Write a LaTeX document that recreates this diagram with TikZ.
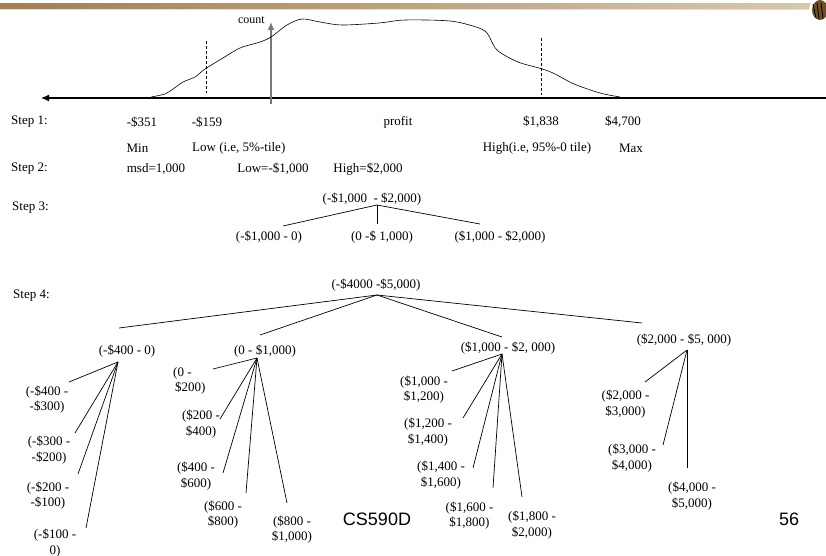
\documentclass[tikz,border=0pt]{standalone}
\usepackage{fontspec}
\setmainfont{Liberation Serif}
\newfontfamily\arialfont{Liberation Sans}
\usetikzlibrary{arrows.meta}
\definecolor{barL}{RGB}{160,126,86}
\definecolor{barR}{RGB}{216,200,176}
\definecolor{axisgray}{RGB}{120,120,120}
\definecolor{logobrown}{RGB}{110,80,40}
\begin{document}
\begin{tikzpicture}[x=1pt,y=-1pt,
  lbl/.style={inner sep=0pt, font=\fontsize{13}{15.5}\selectfont, align=center},
  lbll/.style={inner sep=0pt, font=\fontsize{13}{15.5}\selectfont, align=left},
  big/.style={inner sep=0pt, font=\arialfont\fontsize{18}{20}\selectfont},
  ln/.style={line width=0.7pt},
  vline/.style={line width=0.7pt, dash pattern=on 3pt off 2pt},
]
\useasboundingbox (0,0) rectangle (826,556);
% top bar
\shade[left color=barL, right color=barR] (0,4) rectangle (815,9);
\fill[barR!60!white] (0,9) rectangle (815,10.5);
% logo
\begin{scope}
\clip (806,0) rectangle (826,22);
\fill[white] (819,10) ellipse (10 and 11);
\fill[logobrown] (820,10) ellipse (8 and 10);
\draw[black, line width=0.8pt] (813,4) -- (816,18) (817,3) -- (819,19) (821,3) -- (823,19);
\end{scope}

% axes
\coordinate (axR) at (826,98);
\coordinate (axL) at (41,98);
\draw[line width=1.3pt, -{Latex[length=8pt,width=7pt]}] (axR) -- (axL);
\coordinate (cntB) at (271,104);
\coordinate (cntT) at (271,23);
\draw[axisgray, line width=1.5pt, -{Latex[length=8pt,width=7pt]}, shorten >=-1pt] (cntB) -- (cntT);
\node[lbl, font=\fontsize{12}{14}\selectfont, anchor=east] (count) at (265,20) {count};
% curve
\draw[line width=0.6pt] plot[smooth, tension=0.5] coordinates {
 (151,97) (165,94) (173,89) (183,82) (195,77) (205,69) (223,58) (240,48)
 (260,42) (271,37) (287,25) (302,19) (320,22) (342,25) (379,23) (405,20)
 (450,21) (476,27) (487,33) (497,50) (518,62) (539,68) (553,73) (574,84)
 (600,93) (620,97)};
\coordinate (dl1) at (206,41); \coordinate (dl2) at (206,93);
\coordinate (dr1) at (541,38); \coordinate (dr2) at (541,95);
\draw[vline] (dl1) -- (dl2);
\draw[vline] (dr1) -- (dr2);

% step 1
\node[lbl, anchor=west] (st1) at (11,122) {Step 1:};
\node[lbl] (v351) at (142,122) {-\$351};
\node[lbl] (v159) at (207,122) {-\$159};
\node[lbl] (profit) at (398,122) {profit};
\node[lbl] (v1838) at (541,122) {\$1,838};
\node[lbl] (v4700) at (623,122) {\$4,700};
\node[lbl] (tmin) at (137.5,148) {Min};
\node[lbl, anchor=west] (tlow) at (192,148) {Low (i.e, 5\%-tile)};
\node[lbl] (thigh) at (537,148) {High(i.e, 95\%-0 tile)};
\node[lbl] (tmax) at (631,148) {Max};
% step 2
\node[lbl, anchor=west] (st2) at (11,169) {Step 2:};
\node[lbl] (msd) at (156,169) {msd=1,000};
\node[lbl] (low2) at (273,169) {Low=-\$1,000};
\node[lbl] (high2) at (368,169) {High=\$2,000};
% step 3
\node[lbl, anchor=west] (st3) at (12,208) {Step 3:};
\node[lbl] (s3root) at (372,199) {(-\$1,000~ - \$2,000)};
\coordinate (s3apex) at (377,205);
\coordinate (s3ea) at (283,226);
\coordinate (s3eb) at (377,224);
\coordinate (s3ec) at (480,224);
\draw[ln] (s3apex) -- (s3ea);
\draw[ln] (s3apex) -- (s3eb);
\draw[ln] (s3apex) -- (s3ec);
\node[lbl] (s3a) at (269,237) {(-\$1,000 - 0)};
\node[lbl] (s3b) at (382,237) {(0 -\$ 1,000)};
\node[lbl] (s3c) at (500,237) {(\$1,000 - \$2,000)};

% step 4
\node[lbl, anchor=west] (st4) at (13,296) {Step 4:};
\node[lbl] (s4root) at (376,285) {(-\$4000 -\$5,000)};
\coordinate (s4apex) at (377,295);
\coordinate (s4eA) at (119,328);
\coordinate (s4eB) at (260,335);
\coordinate (s4eC) at (502,337);
\coordinate (s4eD) at (642,323);
\draw[ln] (s4apex) -- (s4eA);
\draw[ln] (s4apex) -- (s4eB);
\draw[ln] (s4apex) -- (s4eC);
\draw[ln] (s4apex) -- (s4eD);

% subtree A
\node[lbl] (nA) at (127,351) {(-\$400 - 0)};
\coordinate (apA) at (118,362);
\coordinate (eA1) at (69,382);
\coordinate (eA2) at (75,433);
\coordinate (eA3) at (78,474);
\coordinate (eA4) at (86,528);
\foreach \e in {eA1,eA2,eA3,eA4} \draw[ln] (apA) -- (\e);
\node[lbl] (lA1) at (47,399.5) {(-\$400 -\\-\$300)};
\node[lbl] (lA2) at (49,450) {(-\$300 -\\-\$200)};
\node[lbl] (lA3) at (48,495.5) {(-\$200 -\\-\$100)};
\node[lbl] (lA4) at (55,543) {(-\$100 -\\0)};

% subtree B
\node[lbl] (nB) at (265,351) {(0 - \$1,000)};
\coordinate (apB) at (257,358);
\coordinate (eB1) at (213,369);
\coordinate (eB2) at (220,419);
\coordinate (eB3) at (223,473);
\coordinate (eB4) at (246,493);
\coordinate (eB5) at (287,503);
\foreach \e in {eB1,eB2,eB3,eB4,eB5} \draw[ln] (apB) -- (\e);
\node[lbll, anchor=west] (lB1) at (173,381) {(0 -\\\hspace*{2pt}\$200)};
\node[lbl] (lB2) at (201,424) {(\$200 -\\\$400)};
\node[lbl] (lB3) at (196,476) {(\$400 -\\\$600)};
\node[lbl] (lB4) at (223,514.5) {(\$600 -\\\$800)};
\node[lbl] (lB5) at (292,529.5) {(\$800 -\\\$1,000)};

% subtree C
\node[lbl] (nC) at (508,348) {(\$1,000 - \$2, 000)};
\coordinate (apC) at (502,354);
\coordinate (eC1) at (452,371);
\coordinate (eC2) at (463,418);
\coordinate (eC3) at (473,468);
\coordinate (eC4) at (493,488);
\coordinate (eC5) at (522,497);
\foreach \e in {eC1,eC2,eC3,eC4,eC5} \draw[ln] (apC) -- (\e);
\node[lbl] (lC1) at (424,389.5) {(\$1,000 -\\\$1,200)};
\node[lbl] (lC2) at (428,432) {(\$1,200 -\\\$1,400)};
\node[lbl] (lC3) at (441,475) {(\$1,400 -\\\$1,600)};
\node[lbl] (lC4) at (469.5,515.5) {(\$1,600 -\\\$1,800)};
\node[lbl] (lC5) at (532,525) {(\$1,800 -\\\$2,000)};

% subtree D
\node[lbl] (nD) at (684,340) {(\$2,000 - \$5, 000)};
\coordinate (apD) at (687,350);
\coordinate (eD1) at (645,382);
\coordinate (eD2) at (663,445);
\coordinate (eD3) at (687,468);
\foreach \e in {eD1,eD2,eD3} \draw[ln] (apD) -- (\e);
\node[lbl] (lD1) at (625.5,404) {(\$2,000 -\\\$3,000)};
\node[lbl] (lD2) at (632,458) {(\$3,000 -\\\$4,000)};
\node[lbl] (lD3) at (692,496) {(\$4,000 -\\\$5,000)};

% footer
\node[big] (course) at (377,519) {CS590D};
\node[big] (page) at (789,519) {56};
\end{tikzpicture}
\end{document}
